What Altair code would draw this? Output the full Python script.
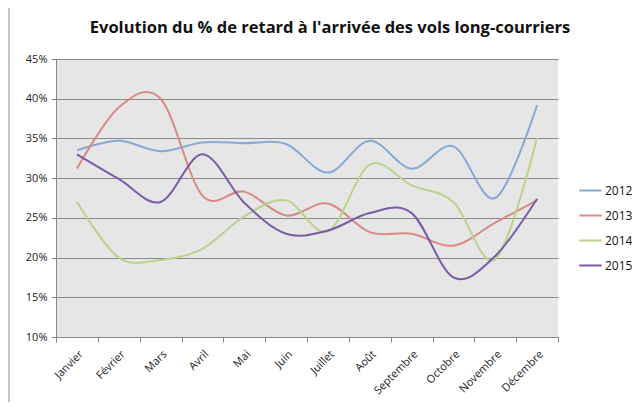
import altair as alt
import pandas as pd

months = ["Janvier", "Février", "Mars", "Avril", "Mai", "Juin", "Juillet",
          "Août", "Septembre", "Octobre", "Novembre", "Décembre"]
years = ["2012", "2013", "2014", "2015"]
v2012 = [33.5, 34.7, 33.4, 34.5, 34.4, 34.3, 30.7, 34.7, 31.2, 34.0, 27.5, 39.2]
v2013 = [31.2, 38.9, 40.0, 27.8, 28.3, 25.3, 26.8, 23.2, 23.0, 21.5, 24.4, 27.2]
v2014 = [27.0, 20.0, 19.7, 21.1, 25.2, 27.2, 23.3, 31.7, 29.1, 27.0, 19.8, 35.1]
v2015 = [33.0, 29.9, 27.0, 33.0, 26.9, 23.0, 23.4, 25.6, 25.6, 17.5, 20.2, 27.4]
series = [v2012, v2013, v2014, v2015]
colors = ["#86aad6", "#d98a85", "#b9d38c", "#7a5ba6"]
widths = [2, 2, 2, 4]
title_text = "Evolution du % de retard à l'arrivée des vols long-courriers"

rows = []
for y, vals in zip(years, series):
    for m, v in zip(months, vals):
        rows.append({"mois": m, "annee": y, "val": v / 100})
df = pd.DataFrame(rows)

leg = dict(title=None, orient="none", legendX=522, legendY=119,
           symbolType="stroke", symbolSize=500, labelFontSize=12,
           labelColor="#111111", rowPadding=6, labelOffset=2)

lines = alt.Chart(df).mark_line(interpolate="cardinal", tension=0).encode(
    x=alt.X("mois:N", sort=months, bandPosition=0.5,
            scale=alt.Scale(type="band", paddingInner=0, paddingOuter=0),
            axis=alt.Axis(title=None, labelAngle=-45, tickBand="extent",
                          labelFontSize=11, labelColor="#222222",
                          domainColor="#888888", tickColor="#888888",
                          tickSize=5, labelPadding=6, grid=False)),
    y=alt.Y("val:Q", scale=alt.Scale(domain=[0.10, 0.45], nice=False),
            axis=alt.Axis(title=None, format=".0%",
                          values=[0.10, 0.15, 0.20, 0.25, 0.30, 0.35, 0.40, 0.45],
                          labelFontSize=11, labelColor="#222222",
                          domainColor="#888888", tickColor="#888888",
                          tickSize=5, labelPadding=4,
                          grid=True, gridColor="#8a8a8a", gridWidth=1)),
    color=alt.Color("annee:N", scale=alt.Scale(domain=years, range=colors),
                    legend=alt.Legend(**leg)),
    strokeWidth=alt.StrokeWidth("annee:N",
                                scale=alt.Scale(domain=years, range=widths),
                                legend=alt.Legend(**leg)),
)

border = alt.Chart(pd.DataFrame({"a": [0]})).mark_rect(
    fill=None, stroke="#8a8a8a", strokeWidth=1
).encode(x=alt.value(-47), x2=alt.value(620), y=alt.value(-53), y2=alt.value(420))

title = alt.Chart(pd.DataFrame({"t": [title_text]})).mark_text(
    font="Open Sans", fontSize=16.5, fontWeight="bold", color="#111111",
    align="center", baseline="middle"
).encode(text="t:N", x=alt.value(274), y=alt.value(-31))

chart = alt.layer(lines, border, title).properties(
    width=502, height=278,
    autosize=alt.AutoSizeParams(type="none"),
    padding={"left": 48, "top": 51, "right": 74, "bottom": 65},
).configure(font="Open Sans").configure_view(fill="#e6e6e6", stroke=None)

chart.save("out.html", embed_options={"renderer": "svg", "actions": False})
